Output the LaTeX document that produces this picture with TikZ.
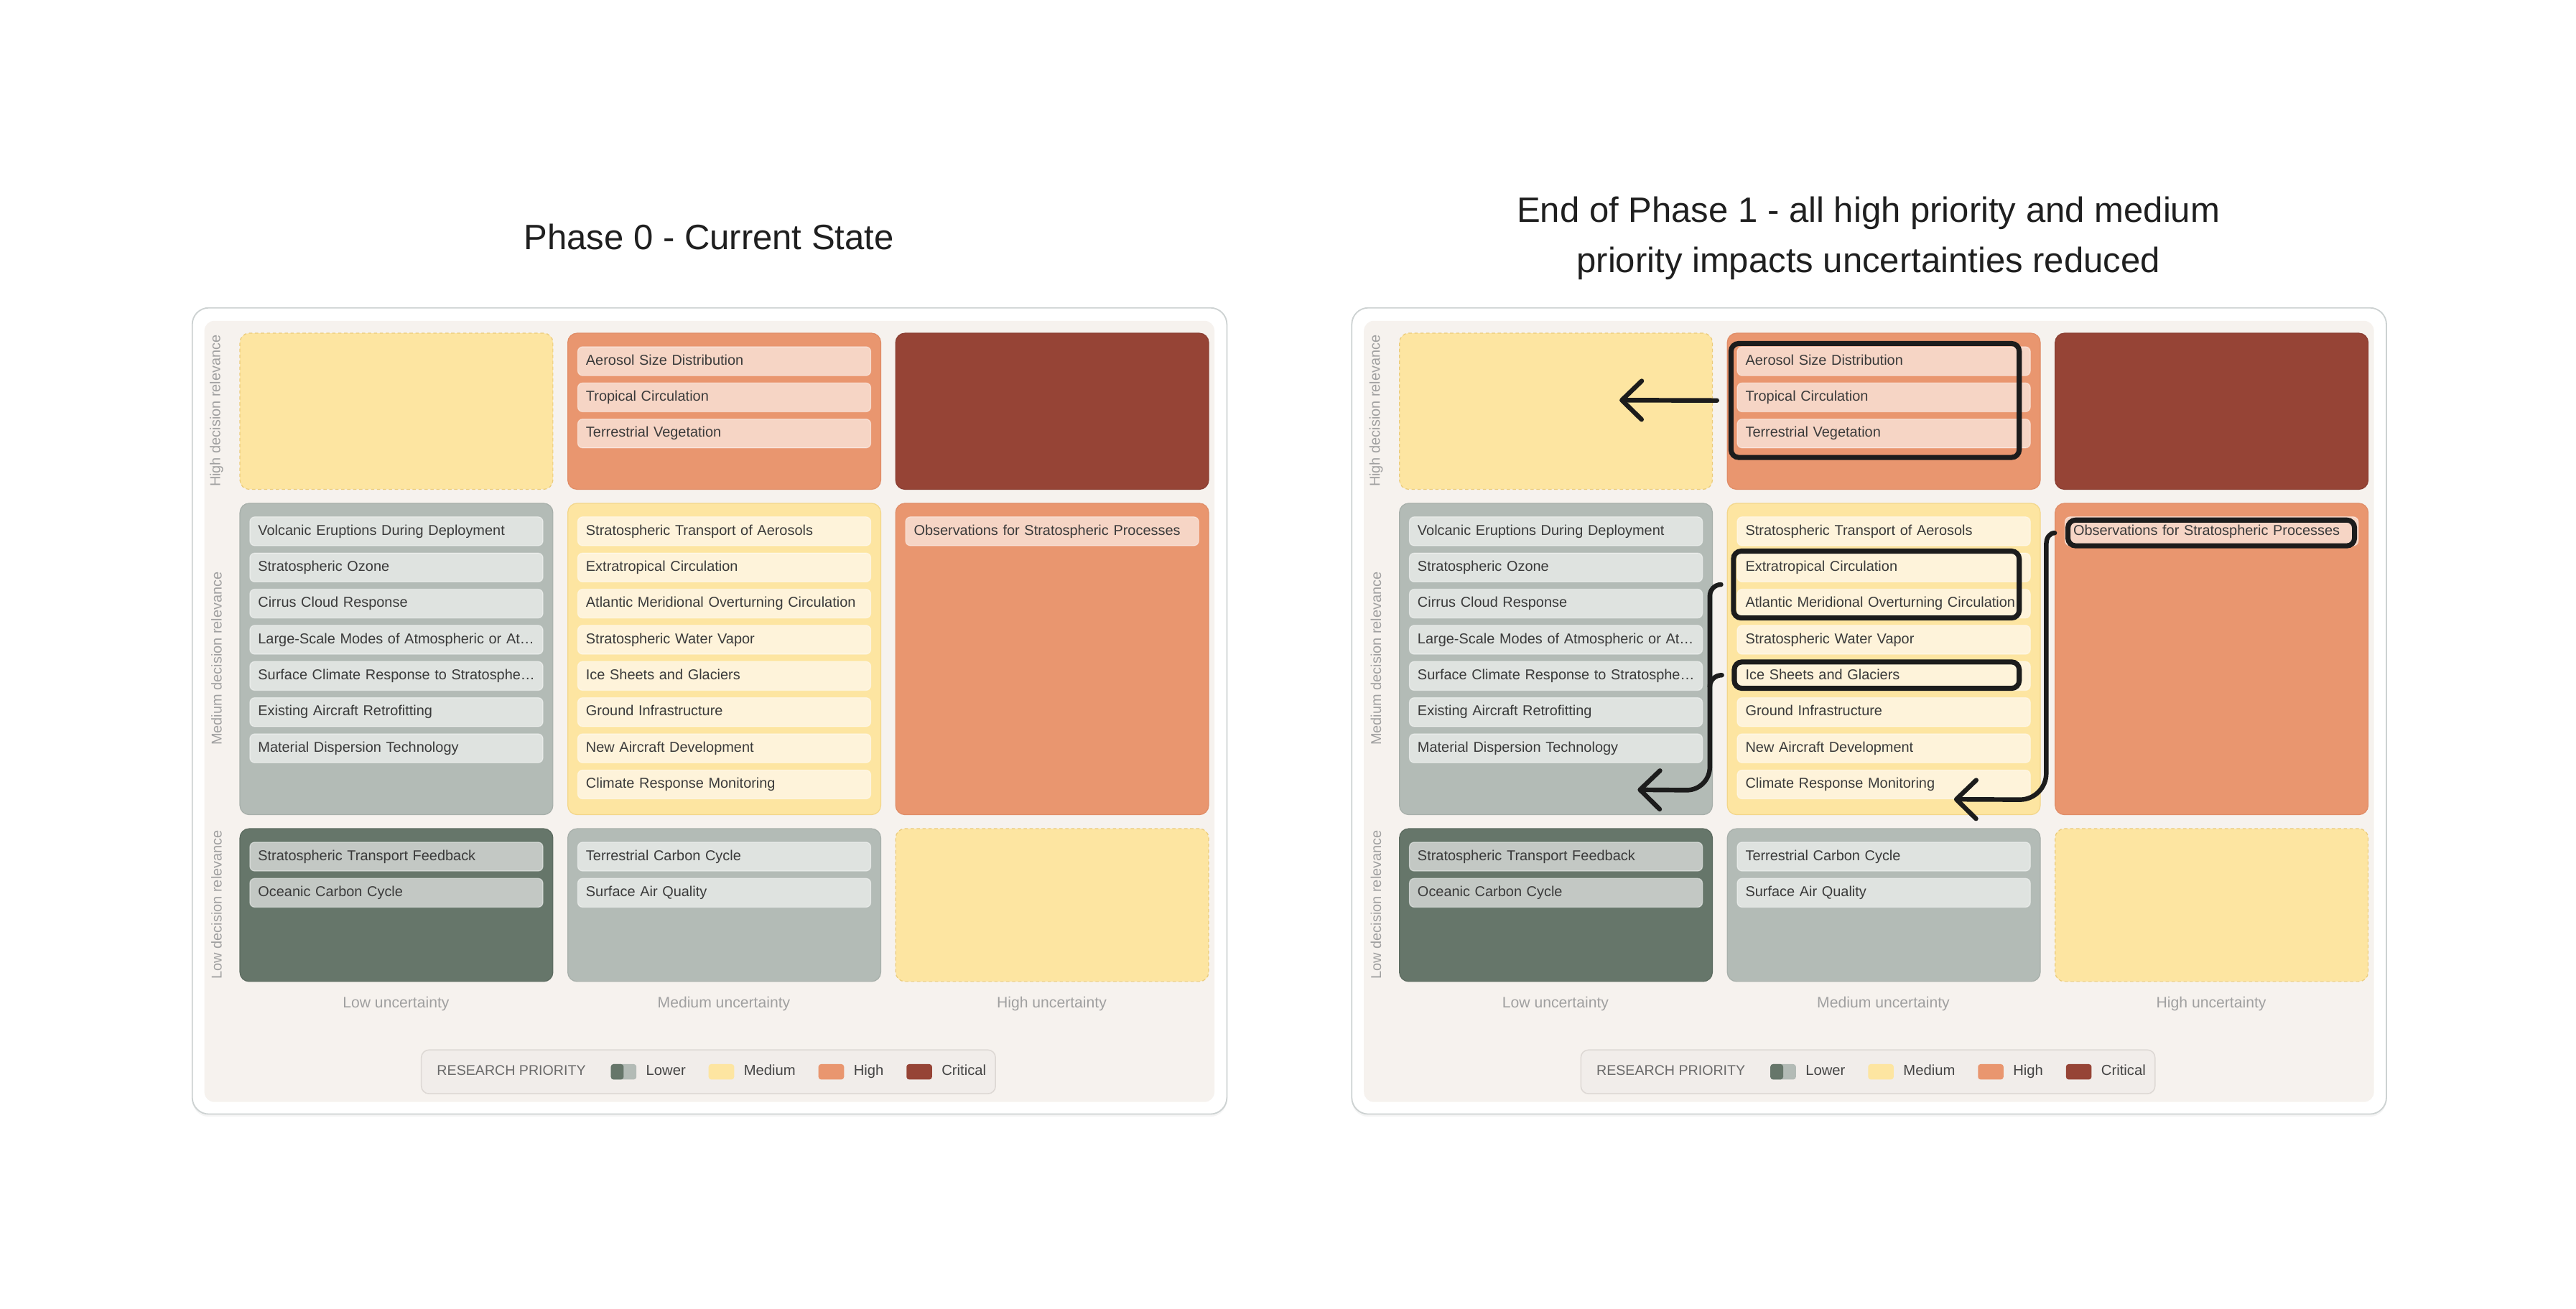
\documentclass[tikz,border=0pt]{standalone}
\usepackage{fontspec}
\setmainfont{Liberation Sans}
\usetikzlibrary{positioning, calc, fit, arrows.meta, shadows}

\definecolor{cardline}{HTML}{CDD2D2}
\definecolor{boardfill}{HTML}{F6F2EE}
\definecolor{medfill}{HTML}{FDE5A1}
\definecolor{medline}{HTML}{F3D68A}
\definecolor{meddash}{HTML}{EBCB7A}
\definecolor{highfill}{HTML}{E9966F}
\definecolor{highline}{HTML}{E08C66}
\definecolor{critfill}{HTML}{964436}
\definecolor{critline}{HTML}{8A3D31}
\definecolor{lowfill}{HTML}{B3BBB6}
\definecolor{lowline}{HTML}{A7AFAA}
\definecolor{lowerfill}{HTML}{66766A}
\definecolor{lowerline}{HTML}{5C6B60}
\definecolor{itemhigh}{HTML}{F6D5C5}
\definecolor{itemmed}{HTML}{FEF3DA}
\definecolor{itemlow}{HTML}{DFE3E0}
\definecolor{itemlower}{HTML}{C3C8C4}
\definecolor{itemtext}{HTML}{3A3A3A}
\definecolor{axisgray}{HTML}{A0A0A0}
\definecolor{legfill}{HTML}{F1EDEA}
\definecolor{legline}{HTML}{DDD8D4}
\definecolor{leggray}{HTML}{6A6A6A}
\definecolor{legdark}{HTML}{444444}
\definecolor{inkline}{HTML}{1C1C1C}

\tikzset{
	card/.style={
		anchor=north west,
		inner sep=0pt,
		rounded corners=7.5pt,
		fill=white,
		draw=cardline,
		line width=0.6pt,
		drop shadow={shadow xshift=0pt, shadow yshift=-1.2pt, opacity=0.08}
	},
	board/.style={anchor=north west, inner sep=0pt, rounded corners=4.5pt, fill=boardfill},
	cellbox/.style={
		anchor=north west,
		inner sep=0pt,
		minimum width=142.1pt,
		rounded corners=4.2pt,
		line width=0.4pt
	},
	emptycell/.style={fill=medfill, draw=meddash, dash pattern=on 1.5pt off 1.2pt},
	medcell/.style={fill=medfill, draw=medline},
	highcell/.style={fill=highfill, draw=highline},
	critcell/.style={fill=critfill, draw=critline},
	lowcell/.style={fill=lowfill, draw=lowline},
	lowercell/.style={fill=lowerfill, draw=lowerline},
	itembox/.style={
		anchor=north west,
		inner xsep=3.75pt,
		inner ysep=0pt,
		minimum height=13.1pt,
		text width=125.6pt,
		align=left,
		rounded corners=2.2pt,
		draw=white,
		draw opacity=0.45,
		line width=0.4pt,
		text=itemtext,
		font=\fontsize{6.5}{7.5}\selectfont,
		text height=4.7pt,
		text depth=1.3pt
	},
	phasetitle/.style={inner sep=0pt, font=\fontsize{16}{22.8}\selectfont, text=black!88},
	rowlabel/.style={rotate=90, inner sep=0pt, text=axisgray, font=\fontsize{6.5}{7.5}\selectfont},
	collabel/.style={inner sep=0pt, text=axisgray, font=\fontsize{6.9}{8}\selectfont},
	legendbox/.style={
		inner sep=0pt,
		minimum width=260.7pt,
		minimum height=19.9pt,
		rounded corners=3.5pt,
		fill=legfill,
		draw=legline,
		line width=0.5pt
	},
	legcaps/.style={inner sep=0pt, text=leggray, font=\fontsize{6.4}{7}\selectfont, text height=4.8pt, text depth=1.4pt},
	legtext/.style={inner sep=0pt, text=legdark, font=\fontsize{6.6}{7.5}\selectfont, text height=4.8pt, text depth=1.4pt},
	swatch/.style={inner sep=0pt, minimum width=11.6pt, minimum height=7pt, rounded corners=1.2pt},
	markbox/.style={draw=inkline, line width=2.3pt, rounded corners=3.5pt, inner sep=0pt},
	moveline/.style={draw=inkline, line width=2.1pt, line cap=round},
	movearrow/.style={moveline, -{Straight Barb[length=9pt, width=17.5pt, round]}}
}

% items of one cell: prefix, left, top, fill, texts
\newcommand{\cellitems}[5]{%
	\foreach \txt [count=\k] in {#5} {
		\node[itembox, fill=#4] (#1\k) at ({#2+6},{#3+8.2+(\k-1)*21.9}) {\mbox{\txt}};
	}%
}

% one whole matrix: prefix, shift
\newcommand{\phasepanel}[2]{%
	\begin{scope}[shift={(#2,0)}]
	\node[card, minimum width=469.8pt, minimum height=366.15pt] (#1-card) at (116,186) {};
	\node[board, minimum width=458.6pt, minimum height=354.75pt] (#1-board) at (123.5,194) {};
	
	% cells
	\node[cellbox, emptycell, minimum height=70.9pt] (#1-HL) at (145,201.5) {};
	\node[cellbox, highcell, minimum height=70.9pt] (#1-HM) at (343.5,201.5) {};
	\node[cellbox, critcell, minimum height=70.9pt] (#1-HH) at (542,201.5) {};
	\node[cellbox, lowcell, minimum height=141.4pt] (#1-ML) at (145,304.5) {};
	\node[cellbox, medcell, minimum height=141.4pt] (#1-MM) at (343.5,304.5) {};
	\node[cellbox, highcell, minimum height=141.4pt] (#1-MH) at (542,304.5) {};
	\node[cellbox, lowercell, minimum height=69.4pt] (#1-LL) at (145,501.5) {};
	\node[cellbox, lowcell, minimum height=69.4pt] (#1-LM) at (343.5,501.5) {};
	\node[cellbox, emptycell, minimum height=69.4pt] (#1-LH) at (542,501.5) {};
	
	% items
	\cellitems{#1-hm}{343.5}{201.5}{itemhigh}{%
		Aerosol Size Distribution,%
		Tropical Circulation,%
		Terrestrial Vegetation}
	\cellitems{#1-ml}{145}{304.5}{itemlow}{%
		Volcanic Eruptions During Deployment,%
		Stratospheric Ozone,%
		Cirrus Cloud Response,%
		Large-Scale Modes of Atmospheric or At…,%
		Surface Climate Response to Stratosphe…,%
		Existing Aircraft Retrofitting,%
		Material Dispersion Technology}
	\cellitems{#1-mm}{343.5}{304.5}{itemmed}{%
		Stratospheric Transport of Aerosols,%
		Extratropical Circulation,%
		Atlantic Meridional Overturning Circulation,%
		Stratospheric Water Vapor,%
		Ice Sheets and Glaciers,%
		Ground Infrastructure,%
		New Aircraft Development,%
		Climate Response Monitoring}
	\cellitems{#1-mh}{542}{304.5}{itemhigh}{%
		Observations for Stratospheric Processes}
	\cellitems{#1-ll}{145}{501.5}{itemlower}{%
		Stratospheric Transport Feedback,%
		Oceanic Carbon Cycle}
	\cellitems{#1-lm}{343.5}{501.5}{itemlow}{%
		Terrestrial Carbon Cycle,%
		Surface Air Quality}
	
	% axis labels
	\node[rowlabel] (#1-rowH) at (131.1,248.75) {High decision relevance};
	\node[rowlabel] (#1-rowM) at (131.1,398.75) {Medium decision relevance};
	\node[rowlabel] (#1-rowL) at (131.1,547.75) {Low decision relevance};
	\node[collabel] (#1-colL) at (239.75,607.7) {Low uncertainty};
	\node[collabel] (#1-colM) at (438.25,607.7) {Medium uncertainty};
	\node[collabel] (#1-colH) at (636.75,607.7) {High uncertainty};
	
	% legend
	\node[legendbox] (#1-legend) at (428.9,649) {};
	\node[legcaps, anchor=west] (#1-legcap) at (264.3,649) {RESEARCH PRIORITY};
	\node[swatch, fill=lowfill, right=11pt of #1-legcap,
		path picture={\fill[lowerfill] (path picture bounding box.north west) rectangle (path picture bounding box.south);}] (#1-sw1) {};
	\node[legtext, right=4pt of #1-sw1] (#1-lg1) {Lower};
	\node[swatch, fill=medfill, right=10pt of #1-lg1] (#1-sw2) {};
	\node[legtext, right=4pt of #1-sw2] (#1-lg2) {Medium};
	\node[swatch, fill=highfill, right=10pt of #1-lg2] (#1-sw3) {};
	\node[legtext, right=4pt of #1-sw3] (#1-lg3) {High};
	\node[swatch, fill=critfill, right=10pt of #1-lg3] (#1-sw4) {};
	\node[legtext, right=4pt of #1-sw4] (#1-lg4) {Critical};
	\end{scope}%
}

\begin{document}
\begin{tikzpicture}[x=0.75pt, y=-0.75pt]
	\useasboundingbox (0,0) rectangle (1559.6,792.2);
	
	% titles
	\node[phasetitle] (title0) at (429.2,143.5) {Phase 0 - Current State};
	\node[phasetitle, align=center] (title1) at (1131.2,144.2) {End of Phase 1 - all high priority and medium\\priority impacts uncertainties reduced};
	
	\phasepanel{p0}{0}
	\phasepanel{p1}{702}
	
	% reduced uncertainties
	\node[markbox, fit={($(p1-hm1.north west)+(-3.5,-1.7)$) ($(p1-hm3.south east)+(-7,5.5)$)}] (sel1) {};
	\node[markbox, fit={($(p1-mm2.north west)+(-2,-0.9)$) ($(p1-mm3.south east)+(-7,-0.3)$)}] (sel2) {};
	\node[markbox, fit={($(p1-mm5.north west)+(-1.5,0.5)$) ($(p1-mm5.south east)+(-7,-1.5)$)}] (sel3) {};
	\node[markbox, fit={($(p1-mh1.north west)+(2,2.2)$) ($(p1-mh1.south east)+(-2.5,-0.2)$)}] (sel4) {};
	
	\coordinate (tip1) at (980.5,242.3);
	\coordinate (tip2) at (991.5,478.2);
	\coordinate (tip3) at (1183,484);
	
	\draw[movearrow] ($(sel1.west)+(-7,0)$) -- (tip1);
	\draw[movearrow] ($(sel2.west)+(-6,0)$) to[out=180,in=90] ++(-6.8,7)
		-- ++(0,103.5) to[out=-90,in=0] ++(-14,14) -- (tip2);
	\draw[moveline] ($(sel3.west)+(-6,0)$) to[out=180,in=90] ++(-7.3,7);
	\draw[movearrow] ($(sel4.west)+(-6.5,0)$) to[out=180,in=90] ++(-5.1,6.5)
		-- ++(0,139) to[out=-90,in=0] ++(-16,16) -- (tip3);
\end{tikzpicture}
\end{document}
